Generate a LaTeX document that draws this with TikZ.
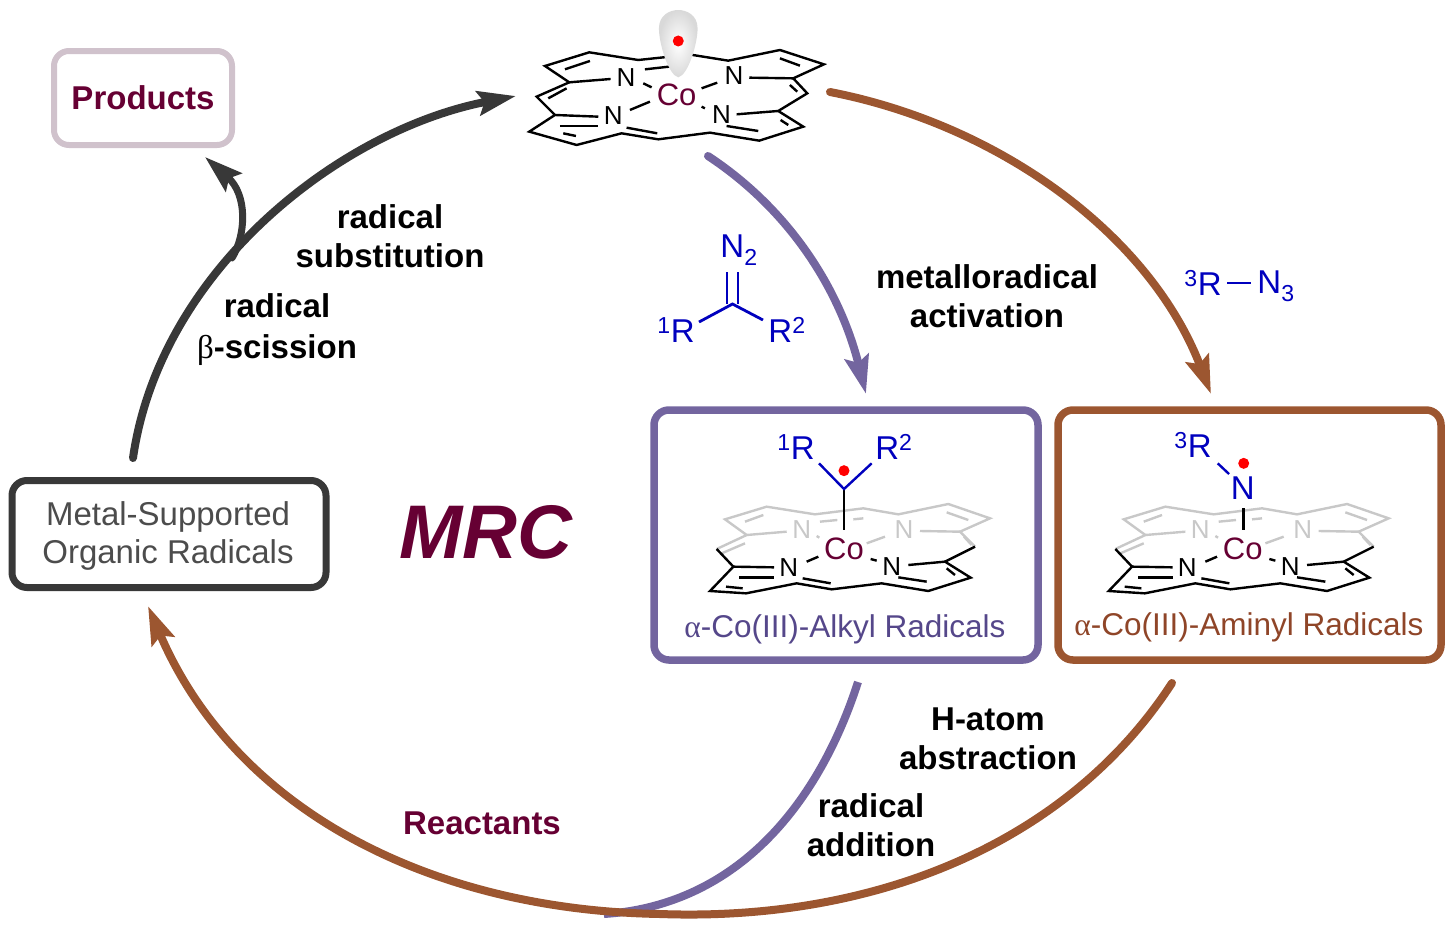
\documentclass[tikz,border=0pt]{standalone}
\usepackage{fontspec}
\setmainfont{Liberation Sans}
\newfontfamily\greekfont{Liberation Serif}
\usetikzlibrary{arrows.meta}
\definecolor{maroon}{HTML}{660033}
\definecolor{lilac}{HTML}{73659F}
\definecolor{lilactext}{HTML}{55478A}
\definecolor{rust}{HTML}{9C5630}
\definecolor{rusttext}{HTML}{8F4528}
\definecolor{coal}{HTML}{383838}
\definecolor{mauve}{HTML}{D0C2CC}
\definecolor{chemblue}{HTML}{0000BE}
\definecolor{ghost}{HTML}{C8C8C8}
\tikzset{
  bond/.style={line width=2.4pt,line join=miter},
  ghostbond/.style={bond,ghost},
  cycle/.style={line width=8pt,line cap=round,-{Stealth[length=38pt,width=24pt,inset=6pt]}},
  framed/.style={draw,line width=7.5pt,rounded corners=15pt},
  step label/.style={font=\fontsize{33}{39}\selectfont\bfseries,align=center},
  chem/.style={font=\fontsize{33}{36}\selectfont,text=chemblue,inner sep=0pt},
  Natom/.style={font=\fontsize{26}{28}\selectfont,inner sep=0pt},
  Coatom/.style={font=\fontsize{31}{33}\selectfont,text=maroon,inner sep=0pt},
  radical/.style={circle,fill=red,inner sep=0pt,minimum size=11pt},
  inring/.style={x=.3333pt,y=-.3333pt,shift={(-582,-432)}}
}
% tilted ring seen in the two boxes, grey back half and black front half
\newcommand{\bentring}{
  \draw[ghostbond] (200,432) -- (290,390) -- (225,343) -- (350,305) -- (495,328) -- (640,310) -- (745,328) -- (895,297) -- (1020,340) -- (930,380) -- (975,425);
  \draw[ghostbond] (215,445) -- (285,415);
  \draw[ghostbond] (285,350) -- (340,330);
  \draw[ghostbond] (510,350) -- (562,345);
  \draw[ghostbond] (610,343) -- (640,340);
  \draw[ghostbond] (890,322) -- (955,345);
  \draw[ghostbond] (942,395) -- (965,420);
  \draw[ghostbond] (290,390) -- (410,380);
  \draw[ghostbond] (810,378) -- (930,380);
  \draw[ghostbond] (650,415) -- (705,395);
  \draw[ghostbond] (500,393) -- (508,398);
  \node[Natom,text=ghost] (nback1) at (455,375) {N};
  \node[Natom,text=ghost] (nback2) at (762,375) {N};
  \draw[bond] (200,432) -- (250,485) -- (180,558) -- (288,565) -- (440,535) -- (545,553) -- (695,535) -- (835,558) -- (962,518) -- (885,470) -- (975,425);
  \draw[bond] (250,485) -- (372,487);
  \draw[bond] (268,518) -- (372,518);
  \draw[bond] (228,545) -- (278,550);
  \draw[bond] (458,520) -- (542,535);
  \draw[bond] (745,517) -- (830,530);
  \draw[bond] (890,490) -- (915,510);
  \draw[bond] (775,480) -- (885,470);
  \draw[bond] (470,470) -- (505,455);
  \draw[bond] (662,462) -- (680,467);
  \node[Natom] (nfront1) at (416,487) {N};
  \node[Natom] (nfront2) at (725,485) {N};
  \node[Coatom] (co) at (582,432) {Co};
}
\begin{document}
\begin{tikzpicture}[x=1pt,y=-1pt]
\useasboundingbox (0,0) rectangle (1454,929);

% boxes
\node[framed,draw=mauve,line width=6pt,minimum width=178pt,minimum height=94pt,font=\fontsize{33}{36}\selectfont\bfseries,text=maroon] (products) at (143,98) {Products};
\node[framed,draw=coal,line width=7pt,minimum width=314pt,minimum height=107pt] (organic) at (169,534) {};
\node[align=center,font=\fontsize{33}{38}\selectfont,text=coal!90] (organictext) at (168,536) {Metal-Supported\\Organic Radicals};
\node[framed,draw=lilac,minimum width=384pt,minimum height=250pt] (alkyl) at (846,535) {};
\node[framed,draw=rust,minimum width=383pt,minimum height=250pt] (aminyl) at (1249.5,535) {};
\node[font=\fontsize{31.5}{33}\selectfont,text=lilactext] (alkyltext) at (845,629) {{\greekfont α}-Co(III)-Alkyl Radicals};
\node[font=\fontsize{31.5}{33}\selectfont,text=rusttext] (aminyltext) at (1249,627) {{\greekfont α}-Co(III)-Aminyl Radicals};

% top complex
\begin{scope}[x=.3333pt,y=-.3333pt,shift={(1530,0)}]
\draw[bond] (480,170) -- (385,180) -- (238,157) -- (105,198) -- (178,247) -- (80,290) -- (135,345) -- (58,395) -- (200,435) -- (335,400) -- (445,418) -- (600,398) -- (748,422) -- (880,380) -- (805,333) -- (892,280) -- (850,235) -- (942,193) -- (810,150) -- (655,182) -- (530,162);
\draw[bond] (178,247) -- (302,237);
\draw[bond] (718,233) -- (850,235);
\draw[bond] (135,345) -- (265,350);
\draw[bond] (680,343) -- (805,333);
\draw[bond] (405,208) -- (495,198);
\draw[bond] (165,208) -- (240,183);
\draw[bond] (115,295) -- (170,265);
\draw[bond] (150,378) -- (265,378);
\draw[bond] (160,400) -- (198,408);
\draw[bond] (350,383) -- (442,400);
\draw[bond] (650,378) -- (745,393);
\draw[bond] (810,175) -- (870,197);
\draw[bond] (840,255) -- (862,275);
\draw[bond] (812,360) -- (835,375);
\draw[bond] (400,250) -- (425,262);
\draw[bond] (360,330) -- (420,305);
\draw[bond] (575,265) -- (622,248);
\draw[bond] (575,320) -- (585,325);
\node[Natom] (ntl) at (348,232) {N};
\node[Natom] (ntr) at (672,228) {N};
\node[Natom] (nbl) at (310,348) {N};
\node[Natom] (nbr) at (635,343) {N};
\node[Coatom] (cotop) at (500,285) {Co};
\shade[inner color=white,outer color=gray!30] (505,232) .. controls (475,225) and (447,130) .. (447,85) .. controls (447,45) and (480,30) .. (505,30) .. controls (530,30) and (563,45) .. (563,85) .. controls (563,130) and (535,225) .. (505,232) -- cycle;
\node[radical] (dottop) at (505,123) {};
\end{scope}

% alkyl radical
\begin{scope}[shift={(844,549)},inring]
\bentring
\draw[bond] (582,252) -- (582,375);
\draw[bond,chemblue] (507,175) -- (582,252) -- (665,175);
\node[chem] (r1) at (438,125) {\textsuperscript{1}R};
\node[chem] (r2) at (732,125) {R\textsuperscript{2}};
\node[radical] (dotalkyl) at (582,197) {};
\end{scope}

% aminyl radical
\begin{scope}[shift={(1242.7,549)},inring]
\bentring
\draw[bond] (584,310) -- (584,375);
\draw[bond,chemblue] (507,175) -- (541,207);
\node[chem] (r3) at (433,120) {\textsuperscript{3}R};
\node[chem] (naminyl) at (582,250) {N};
\node[radical] (dotaminyl) at (585,175) {};
\end{scope}

% diazo compound and azide
\node[chem] (n2) at (739,250) {N\textsubscript{2}};
\coordinate (cdiazo) at (732.5,304);
\draw[bond,chemblue,line width=2.8pt] ([xshift=-5.5pt]cdiazo) ++(0,-32) -- ++(0,32);
\draw[bond,chemblue,line width=2.8pt] ([xshift=5.5pt]cdiazo) ++(0,-32) -- ++(0,32);
\node[chem] (r1d) at (676,330) {\textsuperscript{1}R};
\node[chem] (r2d) at (787,330) {R\textsuperscript{2}};
\draw[bond,chemblue,line width=2.8pt] (699,322) -- (cdiazo) -- (763,320);
\node[chem] (r3a) at (1203,283) {\textsuperscript{3}R};
\node[chem] (n3) at (1276,286) {N\textsubscript{3}};
\draw[bond,chemblue,line width=2.8pt] (1227,283) -- (1251,283);

% ends of the arrows
\coordinate (topleft) at (516,96);
\coordinate (topmid) at (708,156);
\coordinate (topright) at (830,92);
\coordinate (alkylin) at (866,394);
\coordinate (aminylin) at (1211,394);
\coordinate (alkylout) at (858,682);
\coordinate (aminylout) at (1172,683);
\coordinate (organicin) at (148,606);
\coordinate (organicout) at (133,458);
\coordinate (bottom) at (604,914);
\coordinate (fork) at (232,258);
\coordinate (productsin) at (205,157);

% arrows
\draw[cycle,coal,line width=7pt] (fork) .. controls (246,235) and (248,195) .. (productsin);
\draw[cycle,coal] (organicout) .. controls (160,270) and (340,130) .. (topleft);
\draw[cycle,lilac] (topmid) .. controls (790,210) and (840,290) .. (alkylin);
\draw[cycle,rust] (topright) .. controls (1000,125) and (1150,235) .. (aminylin);
\draw[lilac,line width=8pt] (alkylout) .. controls (820,800) and (740,905) .. (bottom);
\draw[cycle,rust] (aminylout) .. controls (1070,840) and (880,922) .. (660,914) .. controls (430,910) and (235,810) .. (organicin);

% labels
\node[step label] (subst) at (390,236) {radical\\substitution};
\node[step label] (scission) at (277,330) {radical\\[2pt]{\mdseries\greekfont β}-scission};
\node[step label] (activation) at (987,296) {metalloradical\\activation};
\node[step label] (abstraction) at (988,739) {H-atom\\abstraction};
\node[step label] (addition) at (871,825) {radical\\addition};
\node[step label,text=maroon] (reactants) at (482,823) {Reactants};
\node[font=\fontsize{76}{80}\selectfont\bfseries\itshape,text=maroon] (mrc) at (486,532) {MRC};
\end{tikzpicture}
\end{document}
